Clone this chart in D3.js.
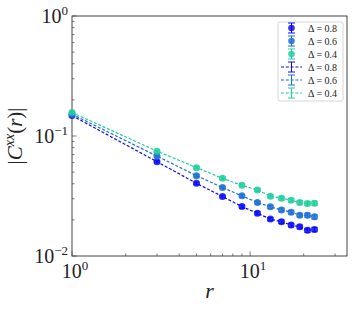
<!DOCTYPE html>
<html>
<head>
<meta charset="utf-8">
<script src="https://cdn.jsdelivr.net/npm/d3@7"></script>
<style>
  body { margin: 0; background: #fff; }
  svg text { font-family: "Liberation Serif", "DejaVu Serif", serif; }
</style>
</head>
<body>
<div id="chart-area"></div>
<script>
// data
var rValues = [1, 3, 5, 7, 9, 11, 13, 15, 17, 19, 21, 23];
var delta08 = [0.148, 0.0611, 0.0403, 0.0313, 0.0258, 0.0227, 0.0203, 0.0193, 0.0181, 0.0175, 0.0164, 0.0166];
var delta06 = [0.152, 0.0680, 0.0467, 0.0372, 0.0317, 0.0279, 0.0257, 0.0242, 0.0232, 0.0219, 0.0219, 0.0212];
var delta04 = [0.157, 0.0748, 0.0545, 0.0444, 0.0388, 0.0355, 0.0315, 0.0303, 0.0292, 0.0279, 0.0274, 0.0275];
var relErr = [0.01, 0.02, 0.025, 0.025, 0.03, 0.03, 0.03, 0.035, 0.035, 0.035, 0.04, 0.04];
var labels = ["\u0394 = 0.8", "\u0394 = 0.6", "\u0394 = 0.4"];
var colors = ["#0a0af8", "#1b6fd8", "#1fcf9c"];
var xTickVals = [1, 10];
var yTickVals = [1, 0.1, 0.01];

var width = 357, height = 312;
var margin = {top: 16, right: 10, bottom: 56, left: 72};

var svg = d3.select("#chart-area").append("svg")
    .attr("width", width)
    .attr("height", height);

var x = d3.scaleLog().domain([1, 35]).range([margin.left, width - margin.right]);
var y = d3.scaleLog().domain([0.01, 1]).range([height - margin.bottom, margin.top]);

var series = [delta08, delta06, delta04].map((vals, i) => {
    return {label: labels[i], color: colors[i], points: vals.map((v, j) => ({r: rValues[j], v: v, e: v * relErr[j]}))};
});

// minor ticks
var xMinor = [2, 3, 4, 5, 6, 7, 8, 9, 20, 30];
var yMinor = [];
[0.01, 0.1].forEach((d) => { for (var k = 2; k <= 9; k++) yMinor.push(d * k); });

var tickColor = "#555";
svg.append("g").selectAll("line").data(xMinor).enter().append("line")
    .attr("x1", (d) => x(d)).attr("x2", (d) => x(d))
    .attr("y1", y(0.01)).attr("y2", y(0.01) - 2.5)
    .attr("stroke", tickColor).attr("stroke-width", 0.8);
svg.append("g").selectAll("line").data(xTickVals).enter().append("line")
    .attr("x1", (d) => x(d)).attr("x2", (d) => x(d))
    .attr("y1", y(0.01)).attr("y2", y(0.01) - 4.5)
    .attr("stroke", tickColor).attr("stroke-width", 0.8);
svg.append("g").selectAll("line").data(yMinor).enter().append("line")
    .attr("x1", x(1)).attr("x2", x(1) + 2.5)
    .attr("y1", (d) => y(d)).attr("y2", (d) => y(d))
    .attr("stroke", tickColor).attr("stroke-width", 0.8);
svg.append("g").selectAll("line").data(yTickVals).enter().append("line")
    .attr("x1", x(1)).attr("x2", x(1) + 4.5)
    .attr("y1", (d) => y(d)).attr("y2", (d) => y(d))
    .attr("stroke", tickColor).attr("stroke-width", 0.8);

// frame
svg.append("rect")
    .attr("x", x(1)).attr("y", y(1))
    .attr("width", x(35) - x(1)).attr("height", y(0.01) - y(1))
    .attr("fill", "none").attr("stroke", "#444").attr("stroke-width", 1);

// tick labels
function powLabel(sel, d) {
    var e = Math.round(Math.log10(d));
    sel.append("tspan").text("10");
    sel.append("tspan").attr("dy", -8).attr("font-size", 13).text(e < 0 ? "\u2212" + (-e) : e);
}
svg.append("g").selectAll("text").data(xTickVals).enter().append("text")
    .attr("x", (d) => x(d) + 3).attr("y", height - margin.bottom + 22)
    .attr("text-anchor", "middle").attr("font-size", 20).attr("fill", "#222")
    .each(function(d) { powLabel(d3.select(this), d); });
svg.append("g").selectAll("text").data(yTickVals).enter().append("text")
    .attr("x", x(1) - 4).attr("y", (d) => y(d) + 7)
    .attr("text-anchor", "end").attr("font-size", 20).attr("fill", "#222")
    .each(function(d) { powLabel(d3.select(this), d); });

// axis titles
svg.append("text")
    .attr("x", (x(1) + x(35)) / 2).attr("y", 298)
    .attr("text-anchor", "middle").attr("font-size", 22).attr("font-style", "italic")
    .attr("fill", "#222").text("r");
var yl = svg.append("text")
    .attr("transform", "translate(22," + ((y(1) + y(0.01)) / 2) + ") rotate(-90)")
    .attr("text-anchor", "middle").attr("font-size", 21).attr("fill", "#222");
yl.append("tspan").text("|");
yl.append("tspan").attr("font-style", "italic").text("C");
yl.append("tspan").attr("font-style", "italic").attr("font-size", 14).attr("dy", -8).text("xx");
yl.append("tspan").attr("dy", 8).text("(");
yl.append("tspan").attr("font-style", "italic").text("r");
yl.append("tspan").text(")|");

// dashed lines
var line = d3.line().x((d) => x(d.r)).y((d) => y(d.v));
svg.append("g").selectAll("path").data(series).enter().append("path")
    .attr("d", (d) => line(d.points))
    .attr("fill", "none").attr("stroke", (d) => d.color)
    .attr("stroke-width", 1.2).attr("stroke-dasharray", "3,1.8");

// error bars and markers
series.forEach((s) => {
    var g = svg.append("g");
    var eb = g.selectAll("g").data(s.points).enter().append("g");
    eb.append("line")
        .attr("x1", (d) => x(d.r)).attr("x2", (d) => x(d.r))
        .attr("y1", (d) => y(d.v + d.e)).attr("y2", (d) => y(d.v - d.e))
        .attr("stroke", s.color).attr("stroke-width", 1);
    [1, -1].forEach((sg) => {
        eb.append("line")
            .attr("x1", (d) => x(d.r) - 3).attr("x2", (d) => x(d.r) + 3)
            .attr("y1", (d) => y(d.v + sg * d.e)).attr("y2", (d) => y(d.v + sg * d.e))
            .attr("stroke", s.color).attr("stroke-width", 1);
    });
    g.selectAll("circle").data(s.points).enter().append("circle")
        .attr("cx", (d) => x(d.r)).attr("cy", (d) => y(d.v))
        .attr("r", 3.5).attr("fill", s.color).attr("fill-opacity", 0.85);
});

// legend
var lg = svg.append("g");
lg.append("rect")
    .attr("x", 278).attr("y", 22).attr("width", 65).attr("height", 79)
    .attr("rx", 2).attr("fill", "#fff").attr("fill-opacity", 0.85)
    .attr("stroke", "#ccc").attr("stroke-width", 0.8);
var entries = series.map((s) => ({s: s, dashed: false}))
    .concat(series.map((s) => ({s: s, dashed: true})));
entries.forEach((en, i) => {
    var cy = 28 + i * 13, cx = 291.5;
    var c = en.s.color;
    if (en.dashed) {
        lg.append("line").attr("x1", 281).attr("x2", 302).attr("y1", cy).attr("y2", cy)
            .attr("stroke", c).attr("stroke-width", 1.2).attr("stroke-dasharray", "3,1.8");
    }
    lg.append("line").attr("x1", cx).attr("x2", cx).attr("y1", cy - 5).attr("y2", cy + 5)
        .attr("stroke", c).attr("stroke-width", 1);
    [-5, 5].forEach((o) => {
        lg.append("line").attr("x1", cx - 3.5).attr("x2", cx + 3.5).attr("y1", cy + o).attr("y2", cy + o)
            .attr("stroke", c).attr("stroke-width", 1);
    });
    if (!en.dashed) {
        lg.append("circle").attr("cx", cx).attr("cy", cy).attr("r", 3.3)
            .attr("fill", c).attr("fill-opacity", 0.85);
    }
    lg.append("text").attr("x", 308).attr("y", cy + 3.5)
        .attr("font-size", 10).attr("fill", "#222").text(en.s.label);
});
</script>
</body>
</html>
